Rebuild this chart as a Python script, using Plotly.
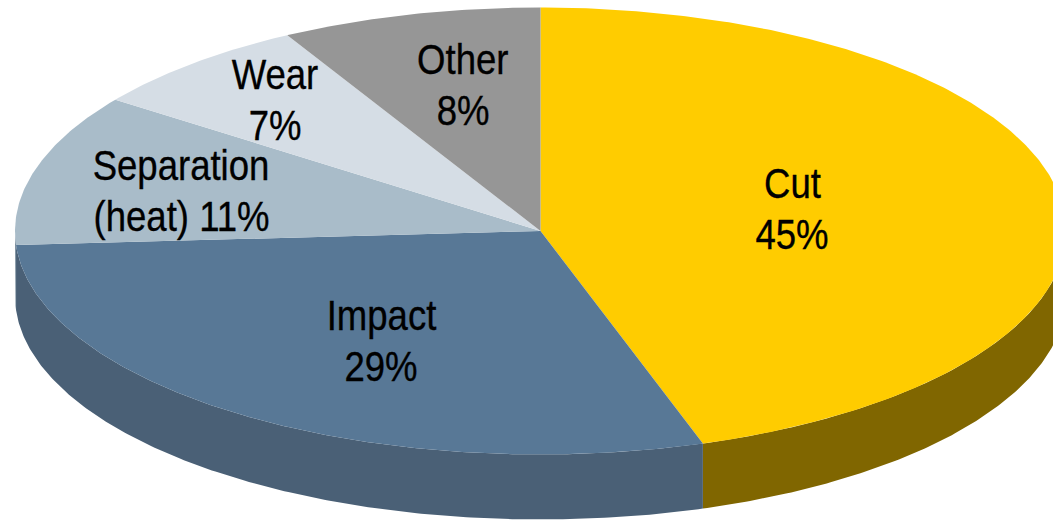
import math
import plotly.graph_objects as go

categories = ["Cut", "Impact", "Separation (heat)", "Wear", "Other"]
values = [45, 29, 11, 7, 8]
top_colors = ["#FFCC00", "#587896", "#A9BCC9", "#D5DDE5", "#969696"]
side_colors = ["#806600", "#4A6076", "#6F8596", "#8F9AA5", "#666666"]
label_lines = [["Cut", "45%"], ["Impact", "29%"], ["Separation", "(heat) 11%"], ["Wear", "7%"], ["Other", "8%"]]
label_xy = [(792, 182.5), (381, 315), (181, 165), (275, 74), (463, 58.5)]

CX, CY, RX, RY, DEPTH = 540.5, 231, 525.5, 223.5, 65
FONT_SIZE = 43
TEXT_SQUEEZE = 0.85
LINE_GAP = 51


def pt(deg, dy=0):
    a = math.radians(deg)
    return CX + RX * math.sin(a), CY - RY * math.cos(a) + dy


def arc(a0, a1):
    n = max(2, int(abs(a1 - a0) * 2) + 1)
    return [a0 + (a1 - a0) * i / (n - 1) for i in range(n)]


fig = go.Figure()
total = sum(values)
start = 0.0
spans = []
for v in values:
    spans.append((start, start + 360.0 * v / total))
    start += 360.0 * v / total

# side walls (only the lower half of the ellipse is visible)
for (a0, a1), col in zip(spans, side_colors):
    lo, hi = max(a0, 90), min(a1, 270)
    if hi <= lo:
        continue
    angs = arc(lo, hi)
    upper = [pt(a) for a in angs]
    lower = [pt(a, DEPTH) for a in reversed(angs)]
    xs, ys = zip(*(upper + lower))
    fig.add_trace(go.Scatter(x=xs, y=ys, mode="lines", fill="toself", fillcolor=col,
                             line=dict(width=0, color=col), hoverinfo="skip"))

# top faces
for (a0, a1), col, name in zip(spans, top_colors, categories):
    xy = [(CX, CY)] + [pt(a) for a in arc(a0, a1)] + [(CX, CY)]
    xs, ys = zip(*xy)
    fig.add_trace(go.Scatter(x=xs, y=ys, mode="lines", fill="toself", fillcolor=col,
                             line=dict(width=0, color=col), name=name, hoverinfo="name"))

for lines, (x, y) in zip(label_lines, label_xy):
    for i, t in enumerate(lines):
        fig.add_annotation(x=x, y=y + i * LINE_GAP, text=t, showarrow=False, align="center",
                           font=dict(family="Liberation Sans", size=FONT_SIZE, color="#000000"))

fig.update_layout(
    width=1053, height=520, margin=dict(l=0, r=0, t=0, b=0), showlegend=False,
    paper_bgcolor="white", plot_bgcolor="white",
    xaxis=dict(range=[0, 1053], visible=False, fixedrange=True),
    yaxis=dict(range=[520, 0], visible=False, fixedrange=True),
)

# Body margin off; the narrow sans of the reference is not installed, so squeeze the real text.
post = """
document.body.style.margin = '0';
document.querySelectorAll('.annotation-text').forEach(function (t) {
  var b = t.getBBox(), cx = b.x + b.width / 2;
  t.setAttribute('transform', 'translate(' + cx + ',0) scale(%s,1) translate(' + (-cx) + ',0)');
  t.style.stroke = '#000000';
  t.style.strokeWidth = '0.35px';
});
""" % TEXT_SQUEEZE
fig.write_html("out.html", config={"displayModeBar": False}, post_script=post)
